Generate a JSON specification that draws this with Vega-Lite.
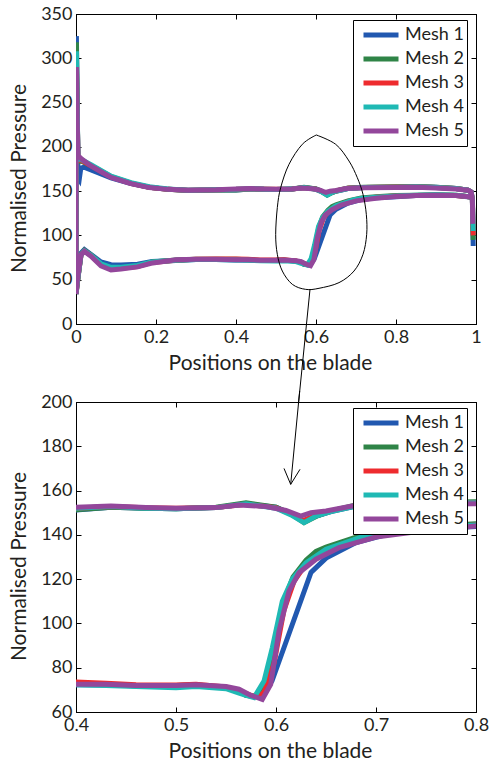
{
  "$schema": "https://vega.github.io/schema/vega-lite/v6.json",
  "background": "white",
  "padding": {"left": 8, "top": 4, "right": 4, "bottom": 4},
  "config": {
    "font": "Lato",
    "view": {"stroke": "black", "strokeWidth": 1},
    "axis": {
      "grid": false, "domainColor": "black", "tickColor": "black", "tickSize": -5,
      "labelPadding": 9, "labelFontSize": 18, "labelColor": "#231f20", "labelFont": "Lato",
      "titleFontSize": 21, "titleFontWeight": "normal", "titleColor": "#231f20", "titleFont": "Lato",
      "labelFlush": false, "labelOverlap": false, "titlePadding": 6
    },
    "axisLeft": {"titlePadding": 11, "titleY": 164},
    "axisBottom": {"titleX": 194},
    "legend": {
      "orient": "none", "strokeColor": "black", "fillColor": "white", "padding": 3,
      "symbolType": "stroke", "symbolSize": 1225, "symbolStrokeWidth": 5,
      "clipHeight": 24, "rowPadding": 0, "labelFontSize": 18, "labelColor": "#231f20",
      "labelFont": "Lato", "symbolOffset": 5, "labelOffset": 4, "cornerRadius": 0
    }
  },
  "datasets": {
    "mesh": [
      {"m":"Mesh 1","x":0.99,"y":143},{"m":"Mesh 1","x":0.95,"y":145},{"m":"Mesh 1","x":0.9,"y":145.5},{"m":"Mesh 1","x":0.85,"y":145},{"m":"Mesh 1","x":0.8,"y":143.8},{"m":"Mesh 1","x":0.75,"y":142.5},{"m":"Mesh 1","x":0.713,"y":140.5},{"m":"Mesh 1","x":0.68,"y":136.5},{"m":"Mesh 1","x":0.65,"y":129.5},{"m":"Mesh 1","x":0.635,"y":123},{"m":"Mesh 1","x":0.596,"y":74},{"m":"Mesh 1","x":0.588,"y":68.5},{"m":"Mesh 1","x":0.58,"y":67},{"m":"Mesh 1","x":0.57,"y":67.5},{"m":"Mesh 1","x":0.563,"y":69.5},{"m":"Mesh 1","x":0.55,"y":71},{"m":"Mesh 1","x":0.52,"y":72},{"m":"Mesh 1","x":0.5,"y":71.8},{"m":"Mesh 1","x":0.46,"y":71.8},{"m":"Mesh 1","x":0.43,"y":72.2},{"m":"Mesh 1","x":0.4,"y":72.3},{"m":"Mesh 1","x":0.35,"y":72.8},{"m":"Mesh 1","x":0.3,"y":72.8},{"m":"Mesh 1","x":0.25,"y":71.8},{"m":"Mesh 1","x":0.19,"y":70.5},{"m":"Mesh 1","x":0.154,"y":67.5},{"m":"Mesh 1","x":0.1125,"y":66.5},{"m":"Mesh 1","x":0.0875,"y":67},{"m":"Mesh 1","x":0.0625,"y":70},{"m":"Mesh 1","x":0.0375,"y":78.5},{"m":"Mesh 1","x":0.021,"y":84},{"m":"Mesh 1","x":0.0125,"y":80},{"m":"Mesh 1","x":0.006,"y":56},{"m":"Mesh 1","x":0.003,"y":45},{"m":"Mesh 1","x":0,"y":34},
      {"m":"Mesh 1","x":0,"y":200},{"m":"Mesh 1","x":0.001,"y":325},{"m":"Mesh 1","x":0.003,"y":250},{"m":"Mesh 1","x":0.005,"y":165},{"m":"Mesh 1","x":0.008,"y":163},
      {"m":"Mesh 1","x":0.012,"y":176},{"m":"Mesh 1","x":0.02,"y":177},{"m":"Mesh 1","x":0.0375,"y":174},{"m":"Mesh 1","x":0.0875,"y":165},{"m":"Mesh 1","x":0.1375,"y":158.5},{"m":"Mesh 1","x":0.183,"y":154.5},{"m":"Mesh 1","x":0.23,"y":152},{"m":"Mesh 1","x":0.28,"y":151},{"m":"Mesh 1","x":0.35,"y":151.3},{"m":"Mesh 1","x":0.4,"y":151.2},{"m":"Mesh 1","x":0.435,"y":152.5},{"m":"Mesh 1","x":0.47,"y":152},{"m":"Mesh 1","x":0.5,"y":151.8},{"m":"Mesh 1","x":0.54,"y":152.3},{"m":"Mesh 1","x":0.57,"y":154},{"m":"Mesh 1","x":0.6,"y":152.5},{"m":"Mesh 1","x":0.615,"y":149.5},{"m":"Mesh 1","x":0.628,"y":146},{"m":"Mesh 1","x":0.64,"y":148.5},{"m":"Mesh 1","x":0.655,"y":150.5},{"m":"Mesh 1","x":0.68,"y":153},{"m":"Mesh 1","x":0.72,"y":154},{"m":"Mesh 1","x":0.8,"y":154.5},{"m":"Mesh 1","x":0.85,"y":155},{"m":"Mesh 1","x":0.9,"y":154.3},{"m":"Mesh 1","x":0.95,"y":153},{"m":"Mesh 1","x":0.98,"y":151},{"m":"Mesh 1","x":0.988,"y":149},{"m":"Mesh 1","x":0.991,"y":140},{"m":"Mesh 1","x":0.993,"y":88},

      {"m":"Mesh 2","x":0.99,"y":143},{"m":"Mesh 2","x":0.95,"y":145.5},{"m":"Mesh 2","x":0.9,"y":146},{"m":"Mesh 2","x":0.85,"y":145.5},{"m":"Mesh 2","x":0.8,"y":145},{"m":"Mesh 2","x":0.75,"y":143.8},{"m":"Mesh 2","x":0.713,"y":142.3},{"m":"Mesh 2","x":0.68,"y":139},{"m":"Mesh 2","x":0.65,"y":134.5},{"m":"Mesh 2","x":0.64,"y":132.5},{"m":"Mesh 2","x":0.63,"y":128.5},{"m":"Mesh 2","x":0.617,"y":121},{"m":"Mesh 2","x":0.607,"y":109},{"m":"Mesh 2","x":0.597,"y":86},{"m":"Mesh 2","x":0.588,"y":70},{"m":"Mesh 2","x":0.58,"y":67},{"m":"Mesh 2","x":0.57,"y":67.5},{"m":"Mesh 2","x":0.563,"y":69.5},{"m":"Mesh 2","x":0.55,"y":71},{"m":"Mesh 2","x":0.52,"y":72.3},{"m":"Mesh 2","x":0.5,"y":72},{"m":"Mesh 2","x":0.46,"y":71.8},{"m":"Mesh 2","x":0.43,"y":72.5},{"m":"Mesh 2","x":0.4,"y":73},{"m":"Mesh 2","x":0.35,"y":73},{"m":"Mesh 2","x":0.3,"y":73},{"m":"Mesh 2","x":0.25,"y":72.2},{"m":"Mesh 2","x":0.19,"y":70},{"m":"Mesh 2","x":0.154,"y":65.5},{"m":"Mesh 2","x":0.1125,"y":63.5},{"m":"Mesh 2","x":0.0875,"y":63.5},{"m":"Mesh 2","x":0.0625,"y":67.5},{"m":"Mesh 2","x":0.0375,"y":78},{"m":"Mesh 2","x":0.021,"y":83},{"m":"Mesh 2","x":0.0125,"y":78},{"m":"Mesh 2","x":0.006,"y":56},{"m":"Mesh 2","x":0.003,"y":45},{"m":"Mesh 2","x":0,"y":34},
      {"m":"Mesh 2","x":0,"y":200},{"m":"Mesh 2","x":0.001,"y":318},{"m":"Mesh 2","x":0.003,"y":240},{"m":"Mesh 2","x":0.005,"y":183},
      {"m":"Mesh 2","x":0.012,"y":184},{"m":"Mesh 2","x":0.0375,"y":179},{"m":"Mesh 2","x":0.0875,"y":166.5},{"m":"Mesh 2","x":0.1375,"y":159},{"m":"Mesh 2","x":0.183,"y":154.5},{"m":"Mesh 2","x":0.23,"y":152},{"m":"Mesh 2","x":0.28,"y":150.8},{"m":"Mesh 2","x":0.35,"y":151.3},{"m":"Mesh 2","x":0.4,"y":151.3},{"m":"Mesh 2","x":0.435,"y":152.5},{"m":"Mesh 2","x":0.47,"y":152},{"m":"Mesh 2","x":0.5,"y":151.8},{"m":"Mesh 2","x":0.54,"y":152.5},{"m":"Mesh 2","x":0.57,"y":154.5},{"m":"Mesh 2","x":0.6,"y":152.5},{"m":"Mesh 2","x":0.615,"y":149.5},{"m":"Mesh 2","x":0.628,"y":145.5},{"m":"Mesh 2","x":0.64,"y":148.3},{"m":"Mesh 2","x":0.655,"y":150.8},{"m":"Mesh 2","x":0.68,"y":153.5},{"m":"Mesh 2","x":0.72,"y":154.5},{"m":"Mesh 2","x":0.8,"y":155},{"m":"Mesh 2","x":0.85,"y":155.2},{"m":"Mesh 2","x":0.9,"y":154.3},{"m":"Mesh 2","x":0.95,"y":153},{"m":"Mesh 2","x":0.98,"y":151},{"m":"Mesh 2","x":0.988,"y":149},{"m":"Mesh 2","x":0.991,"y":140},{"m":"Mesh 2","x":0.993,"y":95},

      {"m":"Mesh 3","x":0.99,"y":143.5},{"m":"Mesh 3","x":0.95,"y":145},{"m":"Mesh 3","x":0.9,"y":145.5},{"m":"Mesh 3","x":0.85,"y":145},{"m":"Mesh 3","x":0.8,"y":144.5},{"m":"Mesh 3","x":0.75,"y":143},{"m":"Mesh 3","x":0.713,"y":141.3},{"m":"Mesh 3","x":0.68,"y":138},{"m":"Mesh 3","x":0.65,"y":133},{"m":"Mesh 3","x":0.63,"y":126.8},{"m":"Mesh 3","x":0.618,"y":119},{"m":"Mesh 3","x":0.608,"y":106},{"m":"Mesh 3","x":0.598,"y":82},{"m":"Mesh 3","x":0.588,"y":69},{"m":"Mesh 3","x":0.583,"y":66.8},{"m":"Mesh 3","x":0.575,"y":67.5},{"m":"Mesh 3","x":0.563,"y":69.5},{"m":"Mesh 3","x":0.55,"y":71.3},{"m":"Mesh 3","x":0.52,"y":72.5},{"m":"Mesh 3","x":0.5,"y":72.2},{"m":"Mesh 3","x":0.46,"y":72.3},{"m":"Mesh 3","x":0.43,"y":73},{"m":"Mesh 3","x":0.4,"y":73.5},{"m":"Mesh 3","x":0.35,"y":73.3},{"m":"Mesh 3","x":0.3,"y":73},{"m":"Mesh 3","x":0.25,"y":72},{"m":"Mesh 3","x":0.19,"y":69.5},{"m":"Mesh 3","x":0.154,"y":65},{"m":"Mesh 3","x":0.1125,"y":63},{"m":"Mesh 3","x":0.0875,"y":63},{"m":"Mesh 3","x":0.0625,"y":67},{"m":"Mesh 3","x":0.0375,"y":77.5},{"m":"Mesh 3","x":0.021,"y":82.5},{"m":"Mesh 3","x":0.0125,"y":78},{"m":"Mesh 3","x":0.006,"y":56},{"m":"Mesh 3","x":0.003,"y":45},{"m":"Mesh 3","x":0,"y":34},
      {"m":"Mesh 3","x":0,"y":200},{"m":"Mesh 3","x":0.001,"y":300},{"m":"Mesh 3","x":0.003,"y":235},{"m":"Mesh 3","x":0.005,"y":185},
      {"m":"Mesh 3","x":0.012,"y":185},{"m":"Mesh 3","x":0.0375,"y":178.5},{"m":"Mesh 3","x":0.0875,"y":166},{"m":"Mesh 3","x":0.1375,"y":158.8},{"m":"Mesh 3","x":0.183,"y":154.3},{"m":"Mesh 3","x":0.23,"y":152},{"m":"Mesh 3","x":0.28,"y":151},{"m":"Mesh 3","x":0.35,"y":151.5},{"m":"Mesh 3","x":0.4,"y":152},{"m":"Mesh 3","x":0.435,"y":152.8},{"m":"Mesh 3","x":0.47,"y":152.2},{"m":"Mesh 3","x":0.5,"y":152},{"m":"Mesh 3","x":0.54,"y":152.3},{"m":"Mesh 3","x":0.57,"y":153.8},{"m":"Mesh 3","x":0.6,"y":152.3},{"m":"Mesh 3","x":0.615,"y":149.3},{"m":"Mesh 3","x":0.627,"y":146.5},{"m":"Mesh 3","x":0.638,"y":148.5},{"m":"Mesh 3","x":0.655,"y":150.7},{"m":"Mesh 3","x":0.68,"y":153.2},{"m":"Mesh 3","x":0.72,"y":154.2},{"m":"Mesh 3","x":0.8,"y":154.6},{"m":"Mesh 3","x":0.85,"y":155},{"m":"Mesh 3","x":0.9,"y":154},{"m":"Mesh 3","x":0.95,"y":153},{"m":"Mesh 3","x":0.98,"y":151},{"m":"Mesh 3","x":0.988,"y":149},{"m":"Mesh 3","x":0.991,"y":140},{"m":"Mesh 3","x":0.993,"y":100},

      {"m":"Mesh 4","x":0.99,"y":143.5},{"m":"Mesh 4","x":0.95,"y":145.5},{"m":"Mesh 4","x":0.9,"y":146},{"m":"Mesh 4","x":0.85,"y":145.5},{"m":"Mesh 4","x":0.8,"y":144.5},{"m":"Mesh 4","x":0.75,"y":143.2},{"m":"Mesh 4","x":0.713,"y":141.7},{"m":"Mesh 4","x":0.693,"y":140.2},{"m":"Mesh 4","x":0.65,"y":133.5},{"m":"Mesh 4","x":0.63,"y":127.4},{"m":"Mesh 4","x":0.6163,"y":120},{"m":"Mesh 4","x":0.6063,"y":110},{"m":"Mesh 4","x":0.5963,"y":89},{"m":"Mesh 4","x":0.588,"y":74},{"m":"Mesh 4","x":0.578,"y":66.5},{"m":"Mesh 4","x":0.57,"y":67.5},{"m":"Mesh 4","x":0.563,"y":68.5},{"m":"Mesh 4","x":0.55,"y":70.5},{"m":"Mesh 4","x":0.52,"y":71.5},{"m":"Mesh 4","x":0.5,"y":71},{"m":"Mesh 4","x":0.46,"y":71.5},{"m":"Mesh 4","x":0.43,"y":72},{"m":"Mesh 4","x":0.4,"y":72.3},{"m":"Mesh 4","x":0.35,"y":72.8},{"m":"Mesh 4","x":0.3,"y":72.8},{"m":"Mesh 4","x":0.25,"y":72},{"m":"Mesh 4","x":0.19,"y":70},{"m":"Mesh 4","x":0.154,"y":66},{"m":"Mesh 4","x":0.1125,"y":64},{"m":"Mesh 4","x":0.0875,"y":64},{"m":"Mesh 4","x":0.0625,"y":68},{"m":"Mesh 4","x":0.0375,"y":77.5},{"m":"Mesh 4","x":0.021,"y":82.5},{"m":"Mesh 4","x":0.0125,"y":78},{"m":"Mesh 4","x":0.006,"y":56},{"m":"Mesh 4","x":0.003,"y":46},{"m":"Mesh 4","x":0,"y":34},
      {"m":"Mesh 4","x":0,"y":200},{"m":"Mesh 4","x":0.001,"y":308},{"m":"Mesh 4","x":0.003,"y":240},{"m":"Mesh 4","x":0.005,"y":186},
      {"m":"Mesh 4","x":0.012,"y":186},{"m":"Mesh 4","x":0.0375,"y":180},{"m":"Mesh 4","x":0.0875,"y":167},{"m":"Mesh 4","x":0.1375,"y":159.5},{"m":"Mesh 4","x":0.183,"y":155},{"m":"Mesh 4","x":0.23,"y":152.5},{"m":"Mesh 4","x":0.28,"y":151},{"m":"Mesh 4","x":0.35,"y":151.5},{"m":"Mesh 4","x":0.4,"y":152},{"m":"Mesh 4","x":0.435,"y":152.8},{"m":"Mesh 4","x":0.47,"y":152},{"m":"Mesh 4","x":0.5,"y":151.8},{"m":"Mesh 4","x":0.54,"y":152.3},{"m":"Mesh 4","x":0.57,"y":154},{"m":"Mesh 4","x":0.6,"y":152},{"m":"Mesh 4","x":0.615,"y":149},{"m":"Mesh 4","x":0.628,"y":145.5},{"m":"Mesh 4","x":0.64,"y":148.5},{"m":"Mesh 4","x":0.655,"y":150.5},{"m":"Mesh 4","x":0.68,"y":153},{"m":"Mesh 4","x":0.72,"y":154},{"m":"Mesh 4","x":0.8,"y":154.5},{"m":"Mesh 4","x":0.85,"y":155},{"m":"Mesh 4","x":0.9,"y":154},{"m":"Mesh 4","x":0.95,"y":153},{"m":"Mesh 4","x":0.98,"y":151},{"m":"Mesh 4","x":0.988,"y":149},{"m":"Mesh 4","x":0.991,"y":140},{"m":"Mesh 4","x":0.993,"y":105},

      {"m":"Mesh 5","x":0.99,"y":143.5},{"m":"Mesh 5","x":0.95,"y":145},{"m":"Mesh 5","x":0.9,"y":145.5},{"m":"Mesh 5","x":0.85,"y":145},{"m":"Mesh 5","x":0.8,"y":144},{"m":"Mesh 5","x":0.75,"y":142},{"m":"Mesh 5","x":0.7,"y":139},{"m":"Mesh 5","x":0.663,"y":134.2},{"m":"Mesh 5","x":0.64,"y":129},{"m":"Mesh 5","x":0.623,"y":122.9},{"m":"Mesh 5","x":0.613,"y":114.6},{"m":"Mesh 5","x":0.603,"y":96.6},{"m":"Mesh 5","x":0.5947,"y":72.5},{"m":"Mesh 5","x":0.5863,"y":65.7},{"m":"Mesh 5","x":0.575,"y":67.5},{"m":"Mesh 5","x":0.563,"y":70.3},{"m":"Mesh 5","x":0.55,"y":71.5},{"m":"Mesh 5","x":0.52,"y":72.3},{"m":"Mesh 5","x":0.5,"y":72},{"m":"Mesh 5","x":0.46,"y":72},{"m":"Mesh 5","x":0.43,"y":72.5},{"m":"Mesh 5","x":0.4,"y":72.5},{"m":"Mesh 5","x":0.35,"y":73},{"m":"Mesh 5","x":0.3,"y":73},{"m":"Mesh 5","x":0.25,"y":72.5},{"m":"Mesh 5","x":0.1875,"y":68.5},{"m":"Mesh 5","x":0.154,"y":64.5},{"m":"Mesh 5","x":0.1125,"y":62},{"m":"Mesh 5","x":0.0875,"y":61},{"m":"Mesh 5","x":0.0625,"y":65.5},{"m":"Mesh 5","x":0.0375,"y":76.5},{"m":"Mesh 5","x":0.021,"y":82},{"m":"Mesh 5","x":0.0125,"y":78},{"m":"Mesh 5","x":0.006,"y":58},{"m":"Mesh 5","x":0.003,"y":48},{"m":"Mesh 5","x":0,"y":34},
      {"m":"Mesh 5","x":0,"y":200},{"m":"Mesh 5","x":0.001,"y":290},{"m":"Mesh 5","x":0.003,"y":230},{"m":"Mesh 5","x":0.005,"y":190},
      {"m":"Mesh 5","x":0.015,"y":186},{"m":"Mesh 5","x":0.0375,"y":178.5},{"m":"Mesh 5","x":0.0875,"y":165.5},{"m":"Mesh 5","x":0.1375,"y":158.5},{"m":"Mesh 5","x":0.183,"y":154},{"m":"Mesh 5","x":0.23,"y":152},{"m":"Mesh 5","x":0.28,"y":151},{"m":"Mesh 5","x":0.35,"y":151.5},{"m":"Mesh 5","x":0.4,"y":152.5},{"m":"Mesh 5","x":0.435,"y":153},{"m":"Mesh 5","x":0.47,"y":152.3},{"m":"Mesh 5","x":0.5,"y":152},{"m":"Mesh 5","x":0.54,"y":152.3},{"m":"Mesh 5","x":0.563,"y":153.5},{"m":"Mesh 5","x":0.59,"y":152.8},{"m":"Mesh 5","x":0.61,"y":151},{"m":"Mesh 5","x":0.6247,"y":148.5},{"m":"Mesh 5","x":0.635,"y":150},{"m":"Mesh 5","x":0.65,"y":150.8},{"m":"Mesh 5","x":0.676,"y":153},{"m":"Mesh 5","x":0.72,"y":153.8},{"m":"Mesh 5","x":0.8,"y":154},{"m":"Mesh 5","x":0.85,"y":154.3},{"m":"Mesh 5","x":0.9,"y":153.5},{"m":"Mesh 5","x":0.95,"y":152.5},{"m":"Mesh 5","x":0.98,"y":151},{"m":"Mesh 5","x":0.988,"y":149},{"m":"Mesh 5","x":0.991,"y":140},{"m":"Mesh 5","x":0.992,"y":113}
    ],
    "ellipse": [
      {"x":0.6008,"y":213.4},{"x":0.6492,"y":202.9},{"x":0.6825,"y":184},{"x":0.7033,"y":165.2},{"x":0.7175,"y":146.4},{"x":0.7258,"y":123.8},{"x":0.7267,"y":101.2},{"x":0.7175,"y":78.7},{"x":0.695,"y":59.8},{"x":0.6575,"y":46.7},{"x":0.6075,"y":40.3},{"x":0.5742,"y":39.1},{"x":0.5408,"y":44.8},{"x":0.5158,"y":59.8},{"x":0.5033,"y":78.7},{"x":0.4992,"y":101.2},{"x":0.5033,"y":131.4},{"x":0.5117,"y":153.9},{"x":0.5325,"y":180.3},{"x":0.5658,"y":202.9},{"x":0.6008,"y":213.4}
    ],
    "arrowTop": [
      {"g":"shaft","x":0.585,"y":39.2},{"g":"shaft","x":0.5561,"y":-90}
    ],
    "arrowBottom": [
      {"g":"shaft","x":0.6237,"y":205},{"g":"shaft","x":0.6147,"y":162.8},
      {"g":"head","x":0.608,"y":170},{"g":"head","x":0.6147,"y":162.8},{"g":"head","x":0.624,"y":169.6}
    ]
  },
  "vconcat": [
    {
      "width": 400, "height": 310,
      "layer": [
        {
          "data": {"name": "mesh"},
          "mark": {"type": "line", "strokeWidth": 5, "clip": true},
          "encoding": {
            "x": {"field": "x", "type": "quantitative", "scale": {"domain": [0, 1], "nice": false, "zero": false},
                  "axis": {"orient": "bottom", "values": [0, 0.2, 0.4, 0.6, 0.8, 1], "format": "~g", "title": "Positions on the blade"}},
            "y": {"field": "y", "type": "quantitative", "scale": {"domain": [0, 350], "nice": false, "zero": false},
                  "axis": {"orient": "left", "values": [0, 50, 100, 150, 200, 250, 300, 350], "title": "Normalised Pressure"}},
            "color": {"field": "m", "type": "nominal",
                      "scale": {"domain": ["Mesh 1", "Mesh 2", "Mesh 3", "Mesh 4", "Mesh 5"], "range": ["#2158b0", "#2f8447", "#ee2b2e", "#1fb9b4", "#93479b"]},
                      "legend": {"title": null, "orient": "none", "legendX": 277, "legendY": 6}},
            "order": {"value": null}
          }
        },
        {
          "data": {"name": "ellipse"},
          "mark": {"type": "line", "interpolate": "cardinal", "color": "black", "strokeWidth": 1},
          "encoding": {
            "x": {"field": "x", "type": "quantitative", "scale": {"domain": [0, 1], "nice": false, "zero": false},
                  "axis": {"orient": "top", "values": [0, 0.2, 0.4, 0.6, 0.8, 1], "labels": false, "title": null}},
            "y": {"field": "y", "type": "quantitative", "scale": {"domain": [0, 350], "nice": false, "zero": false},
                  "axis": {"orient": "right", "values": [0, 50, 100, 150, 200, 250, 300, 350], "labels": false, "title": null}},
            "order": {"value": null}
          }
        },
        {
          "data": {"name": "arrowTop"},
          "mark": {"type": "line", "color": "black", "strokeWidth": 1},
          "encoding": {
            "x": {"field": "x", "type": "quantitative", "scale": {"domain": [0, 1], "nice": false, "zero": false}, "axis": null},
            "y": {"field": "y", "type": "quantitative", "scale": {"domain": [0, 350], "nice": false, "zero": false}, "axis": null},
            "detail": {"field": "g"},
            "order": {"value": null}
          }
        }
      ],
      "resolve": {"axis": {"x": "independent", "y": "independent"}}
    },
    {
      "width": 400, "height": 310,
      "layer": [
        {
          "data": {"name": "mesh"},
          "mark": {"type": "line", "strokeWidth": 5, "clip": true},
          "encoding": {
            "x": {"field": "x", "type": "quantitative", "scale": {"domain": [0.4, 0.8], "nice": false, "zero": false},
                  "axis": {"orient": "bottom", "values": [0.4, 0.5, 0.6, 0.7, 0.8], "format": "~g", "title": "Positions on the blade"}},
            "y": {"field": "y", "type": "quantitative", "scale": {"domain": [60, 200], "nice": false, "zero": false},
                  "axis": {"orient": "left", "values": [60, 80, 100, 120, 140, 160, 180, 200], "title": "Normalised Pressure"}},
            "color": {"field": "m", "type": "nominal",
                      "scale": {"domain": ["Mesh 1", "Mesh 2", "Mesh 3", "Mesh 4", "Mesh 5"], "range": ["#2158b0", "#2f8447", "#ee2b2e", "#1fb9b4", "#93479b"]},
                      "legend": {"title": null, "orient": "none", "legendX": 277, "legendY": 6}},
            "order": {"value": null}
          }
        },
        {
          "data": {"name": "arrowBottom"},
          "mark": {"type": "line", "color": "black", "strokeWidth": 1},
          "encoding": {
            "x": {"field": "x", "type": "quantitative", "scale": {"domain": [0.4, 0.8], "nice": false, "zero": false},
                  "axis": {"orient": "top", "values": [0.4, 0.5, 0.6, 0.7, 0.8], "labels": false, "title": null}},
            "y": {"field": "y", "type": "quantitative", "scale": {"domain": [60, 200], "nice": false, "zero": false},
                  "axis": {"orient": "right", "values": [60, 80, 100, 120, 140, 160, 180, 200], "labels": false, "title": null}},
            "detail": {"field": "g"},
            "order": {"value": null}
          }
        }
      ],
      "resolve": {"axis": {"x": "independent", "y": "independent"}}
    }
  ],
  "spacing": 78,
  "bounds": "flush",
  "resolve": {"scale": {"color": "independent"}, "legend": {"color": "independent"}}
}
